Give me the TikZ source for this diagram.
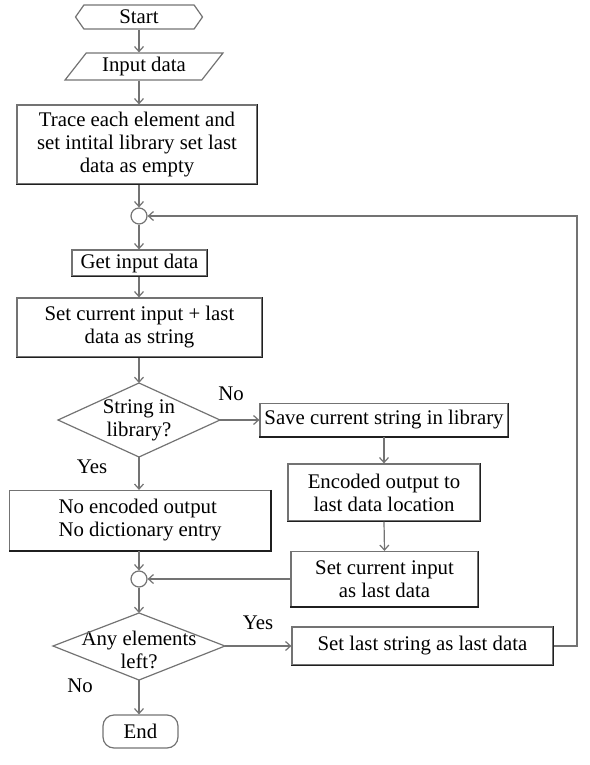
\documentclass[tikz,border=0pt]{standalone}
\usepackage{fontspec}
\setmainfont{Liberation Serif}
\usetikzlibrary{arrows.meta,shapes.geometric,shapes.symbols}
\definecolor{lgray}{gray}{0.45}
\definecolor{dgray}{gray}{0.12}
\begin{document}
\begin{tikzpicture}[x=1pt,y=-1pt,
  every node/.style={font=\fontsize{20.8}{23}\selectfont},
  box/.style={draw=lgray, line width=1.2pt, align=center, inner sep=3pt},
  startshape/.style={signal, signal to=west and east, signal pointer angle=110, draw=lgray, line width=1.2pt, minimum width=127, minimum height=24, inner sep=1pt},
  inshape/.style={trapezium, trapezium left angle=53, trapezium right angle=127, trapezium stretches=true, draw=lgray, line width=1.2pt, minimum width=158, minimum height=27, inner sep=1pt},
  endshape/.style={draw=lgray, line width=1.2pt, rounded corners=11pt, minimum width=75, minimum height=33, inner sep=2pt},
  junc/.style={circle, draw=lgray, line width=1.2pt, minimum size=16, inner sep=0pt},
  dectext/.style={align=center, inner sep=0pt},
  shapeline/.style={draw=lgray, line width=1.2pt},
  darkedge/.style={draw=dgray, line width=1.4pt},
  lbl/.style={inner sep=0pt},
  conn/.style={draw=lgray, line width=1.2pt, -{Straight Barb[length=5pt,width=9pt]}}
]
\useasboundingbox (0,0) rectangle (589,765);

% nodes
\node[startshape] (start) at (139,17) {Start};
\node[inshape] (inp) at (144,66.5) {Input data};
\node[box, minimum width=240, minimum height=79] (trace) at (137,144.5) {Trace each element and\\set intital library set last\\data as empty};
\node[junc] (c1) at (139,216) {};
\node[box, minimum width=135, minimum height=26] (get) at (139.5,263) {Get input data};
\node[box, minimum width=245, minimum height=59] (setcur) at (139.5,327.5) {Set current input + last\\data as string};

\node[dectext] (d1) at (139,420) {String in\\library?};
\coordinate (d1t) at (139,383);
\coordinate (d1b) at (139,457);
\coordinate (d1l) at (58,420);
\coordinate (d1r) at (220,420);
\draw[shapeline] (d1t) -- (d1r) -- (d1b) -- (d1l) -- cycle;

\node[box, minimum width=248, minimum height=33] (save) at (384,420) {Save current string in library};
\node[box, minimum width=192, minimum height=57] (enc) at (384,492.5) {Encoded output to\\last data location};
\node[box, minimum width=187, minimum height=55] (setlast) at (384.5,579) {Set current input\\as last data};
\node[box, minimum width=261, minimum height=60, align=left] (noenc) at (140,520.5) {No encoded output\\No dictionary entry};
\node[junc] (c2) at (139,579) {};

\node[dectext] (d2) at (139,650) {Any elements\\left?};
\coordinate (d2t) at (139,613);
\coordinate (d2b) at (139,680);
\coordinate (d2l) at (53,646);
\coordinate (d2r) at (225,646);
\draw[shapeline] (d2t) -- (d2r) -- (d2b) -- (d2l) -- cycle;

\node[box, minimum width=261, minimum height=38] (setstr) at (422.5,646) {Set last string as last data};
\node[endshape] (end) at (140.5,731.5) {End};

% labels
\node[lbl] (no1) at (231,394) {No};
\node[lbl] (yes1) at (92,467) {Yes};
\node[lbl] (yes2) at (258,623) {Yes};
\node[lbl] (no2) at (80,686) {No};

% darker shadow edges
\foreach \n in {trace,get,setcur,save,enc,setlast,noenc,setstr}
  \draw[darkedge] (\n.north east) -- (\n.south east) -- (\n.south west);

% connectors
\draw[conn] (start.south) -- (start.south |- inp.north);
\draw[conn] (inp.south -| c1) -- (trace.north -| c1);
\draw[conn] (trace.south -| c1) -- (c1.north);
\draw[conn] (c1.south) -- (get.north -| c1);
\draw[conn] (get.south -| c1) -- (setcur.north -| c1);
\draw[conn] (setcur.south -| c1) -- (d1t);
\draw[conn] (d1r) -- (save.west);
\draw[conn] (d1b) -- (noenc.north -| d1b);
\draw[conn] (save.south) -- (enc.north);
\draw[conn] (enc.south) -- (setlast.north);
\draw[conn] (setlast.west) -- (c2.east);
\draw[conn] (noenc.south -| c2) -- (c2.north);
\draw[conn] (c2.south) -- (d2t);
\draw[conn] (d2r) -- (setstr.west);
\draw[conn] (d2b) -- (end.north -| d2b);
\coordinate (fb) at (577,646);
\draw[conn] (setstr.east) -- (fb) |- (c1.east);
\end{tikzpicture}
\end{document}
